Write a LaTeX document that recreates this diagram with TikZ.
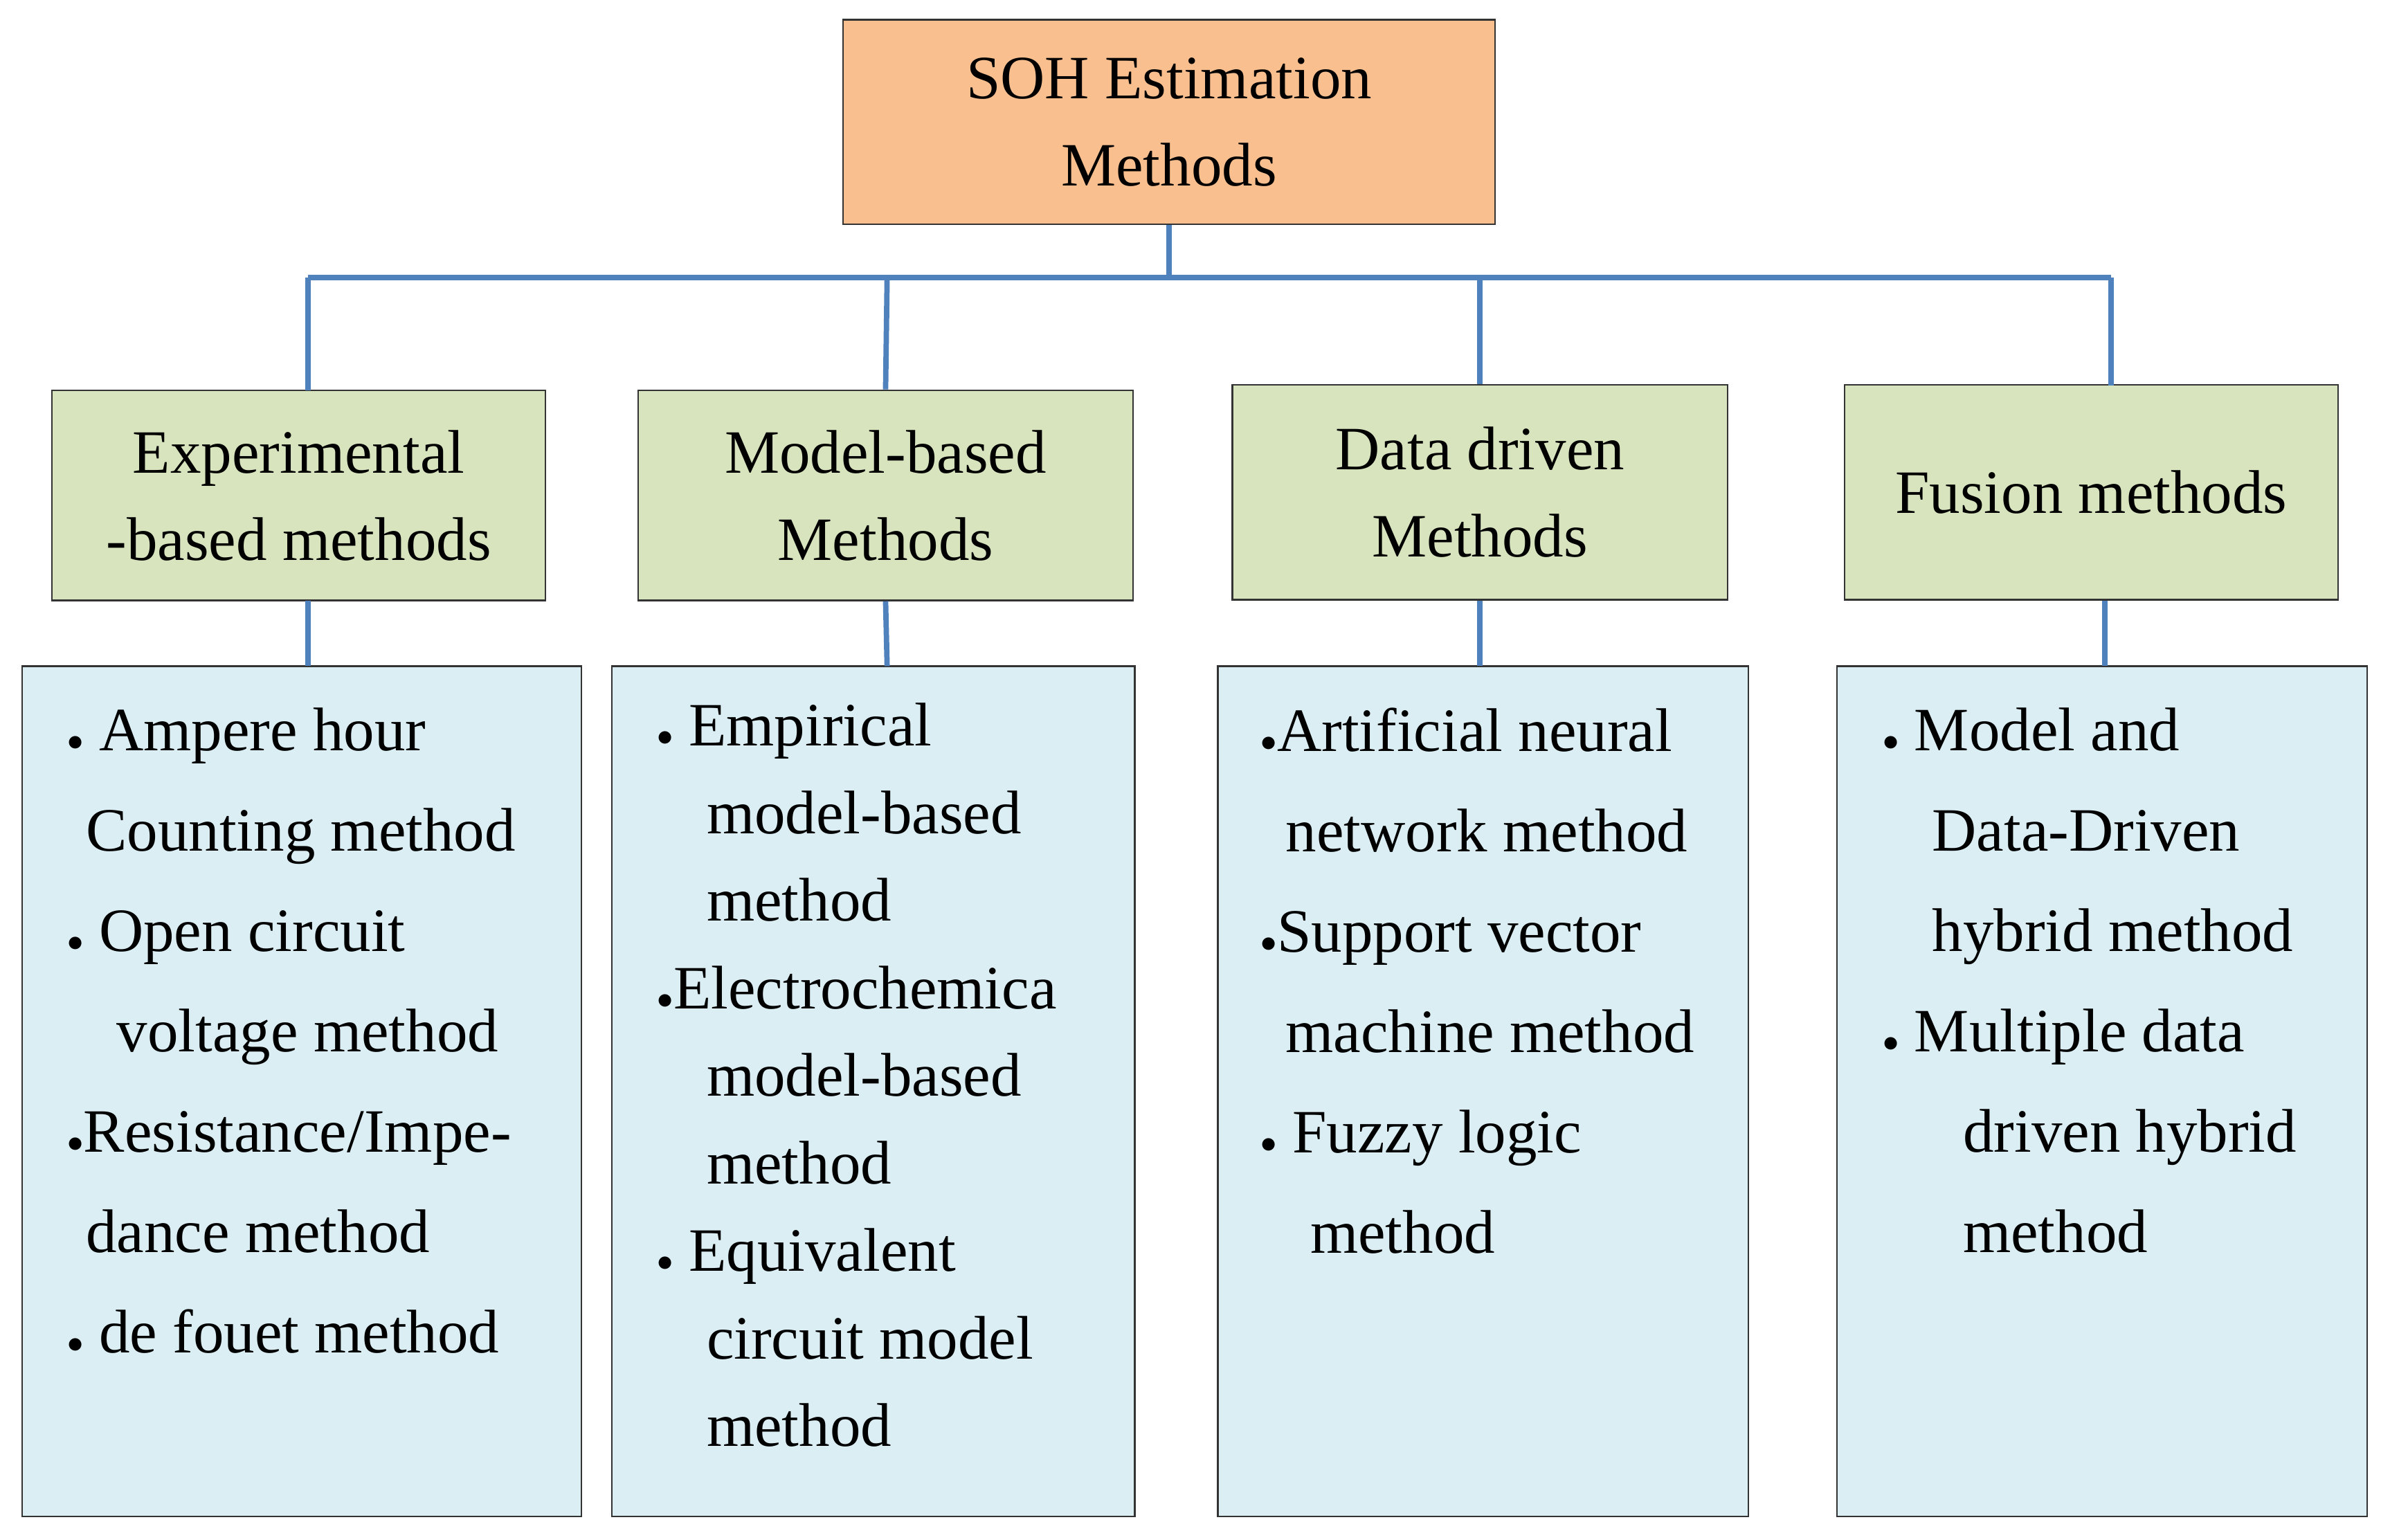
\documentclass[tikz,border=0pt]{standalone}
\usepackage{fontspec}
\setmainfont{Liberation Serif}
\usetikzlibrary{positioning}
\definecolor{topfill}{HTML}{F9BF8F}
\definecolor{midfill}{HTML}{D7E4BD}
\definecolor{lowfill}{HTML}{DBEEF4}
\definecolor{link}{HTML}{4F81BD}
\newcommand{\blt}{{\large$\bullet$}}
\begin{document}
\begin{tikzpicture}[x=0.02cm,y=-0.02cm,
	box/.style={draw=black!80,line width=0.6pt,align=center,inner sep=0pt,font=\fontsize{23}{32.5}\selectfont},
	list/.style={anchor=north west,align=left,inner sep=0pt,font=\fontsize{23}{37.5}\selectfont},
	wire/.style={draw=link,line width=2pt}]

	\useasboundingbox (0,0) rectangle (1568,1010);

	\node[box,fill=topfill,minimum width=8.56cm,minimum height=2.68cm] (soh) at (767,80) {SOH Estimation\\Methods};

	\node[box,fill=midfill,minimum width=6.48cm,minimum height=2.76cm] (exp) at (196,325) {Experimental\\-based methods};
	\node[box,fill=midfill,minimum width=6.5cm,minimum height=2.76cm] (mod) at (581,325) {Model-based\\Methods};
	\node[box,fill=midfill,minimum width=6.5cm,minimum height=2.82cm] (dat) at (971,323) {Data driven\\Methods};
	\node[box,fill=midfill,minimum width=6.48cm,minimum height=2.82cm] (fus) at (1372,323) {Fusion methods};

	\node[box,fill=lowfill,minimum width=7.34cm,minimum height=11.16cm] (expL) at (198,716) {};
	\node[box,fill=lowfill,minimum width=6.86cm,minimum height=11.16cm] (modL) at (573,716) {};
	\node[box,fill=lowfill,minimum width=6.96cm,minimum height=11.16cm] (datL) at (973,716) {};
	\node[box,fill=lowfill,minimum width=6.96cm,minimum height=11.16cm] (fusL) at (1379,716) {};

	\coordinate (hub) at (767,182);
	\draw[wire] (soh.south) -- (hub);
	\draw[wire] (202,182) -- (1385,182);
	\draw[wire] (202,182) -- (202,256);
	\draw[wire] (582,182) -- (mod.north);
	\draw[wire] (971,182) -- (dat.north);
	\draw[wire] (1385,182) -- (1385,253);
	\draw[wire] (202,394) -- (202,437);
	\draw[wire] (mod.south) -- (582,437);
	\draw[wire] (dat.south) -- (971,437);
	\draw[wire] (1381,394) -- (1381,437);

	\node[list] (expT) at (44,464) {\blt\ Ampere hour\\
		\hspace{0.3em}Counting method\\
		\blt\ Open circuit\\
		\hspace{0.8em}voltage method\\
		\blt Resistance/Impe-\\
		\hspace{0.3em}dance method\\
		\blt\ de fouet method};
	\node[list,font=\fontsize{23}{32.7}\selectfont] (modT) at (431,461) {\blt\ Empirical\\
		\hspace{0.8em}model-based\\
		\hspace{0.8em}method\\
		\blt Electrochemica\\
		\hspace{0.8em}model-based\\
		\hspace{0.8em}method\\
		\blt\ Equivalent\\
		\hspace{0.8em}circuit model\\
		\hspace{0.8em}method};
	\node[list] (datT) at (827,464) {\blt Artificial neural\\
		\hspace{0.4em}network method\\
		\blt Support vector\\
		\hspace{0.4em}machine method\\
		\blt\ Fuzzy logic\\
		\hspace{0.8em}method};
	\node[list] (fusT) at (1235,464) {\blt\ Model and\\
		\hspace{0.8em}Data-Driven\\
		\hspace{0.8em}hybrid method\\
		\blt\ Multiple data\\
		\hspace{1.3em}driven hybrid\\
		\hspace{1.3em}method};

\end{tikzpicture}
\end{document}
